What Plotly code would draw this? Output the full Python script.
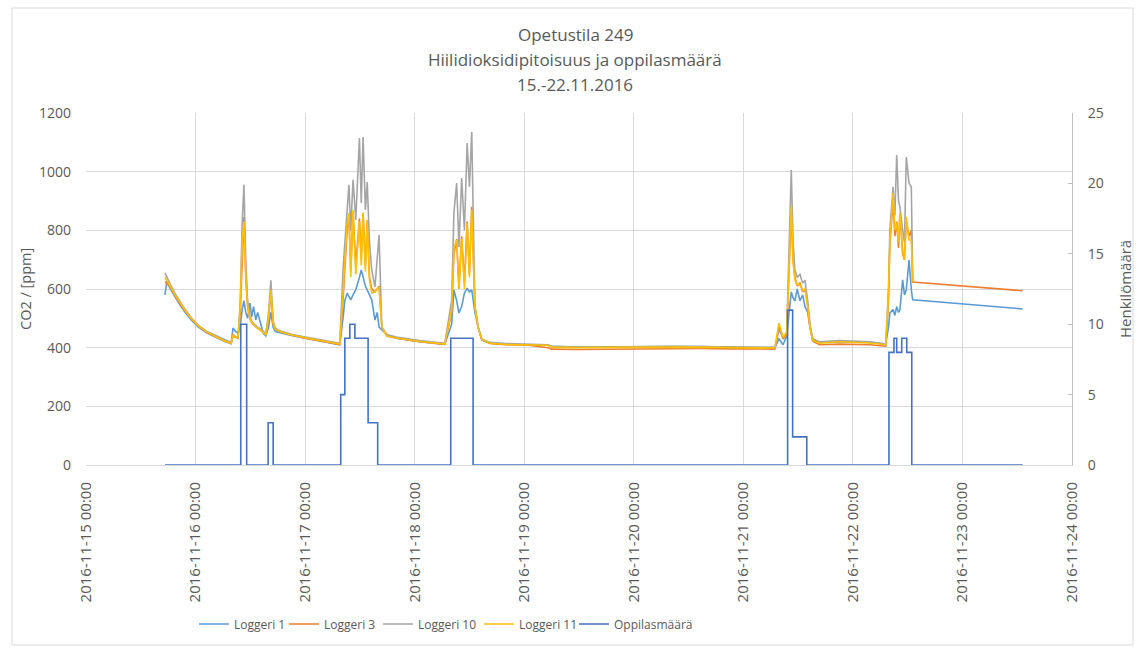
import datetime as dt
import plotly.graph_objects as go

# Measurement start reference: hours below are counted from this moment
BASE = dt.datetime(2016, 11, 15, 0, 0)

# CO2 readings (ppm) from four loggers, sampled at these hour offsets
HOURS = [
    17.3, 17.7, 18.5, 19.5, 20.5, 21.5, 23.0, 24.5, 26.5, 28.5, 30.5, 31.8,
    32.2, 32.8, 33.3, 33.8, 34.2, 34.6, 35.0, 35.4, 35.9, 36.3, 36.7, 37.2, 37.6,
    38.3, 38.8, 39.4, 40.0, 40.5, 41.0, 41.5, 42.5, 45.0, 47.5, 51.0, 55.6,
    56.3, 56.7, 57.2, 57.6, 58.0, 58.5, 59.1, 59.9, 60.3, 60.7, 61.2, 61.6, 62.1,
    62.6, 63.3, 63.8, 64.2, 64.8, 65.9, 68.0, 73.1, 78.6,
    80.1, 80.6, 81.2, 81.7, 82.3, 82.9, 83.5, 84.0, 84.5, 85.2, 85.9, 86.7, 88.5,
    92.0, 97.0, 101.2, 102.0, 108.0, 115.0, 121.0, 128.0, 134.5, 141.0, 147.0, 150.9,
    151.8, 152.7, 153.5, 154.0, 154.5, 154.9, 155.3, 155.8, 156.4, 157.0, 157.5,
    158.1, 158.6, 159.2, 160.7, 165.0, 171.7, 175.2,
    175.8, 176.1, 176.8, 177.2, 177.6, 178.0, 178.3, 178.9, 179.3, 179.7, 180.3,
    180.8, 181.1, 205.2,
]

LOGGERI_1 = [
    580, 625, 600, 572, 548, 525, 495, 472, 450, 435, 420, 414,
    467, 455, 450, 470, 530, 560, 520, 500, 552, 505, 540, 495, 520,
    480, 450, 440, 470, 520, 470, 455, 452, 442, 434, 424, 410,
    500, 560, 586, 575, 563, 580, 597, 640, 665, 641, 610, 597, 580,
    563, 494, 520, 470, 460, 445, 432, 420, 411,
    480, 597, 560, 518, 540, 586, 603, 590, 597, 520, 470, 426, 415,
    412, 410, 408, 405, 402, 403, 404, 405, 404, 402, 401, 400,
    430, 410, 440, 520, 590, 570, 560, 600, 560, 580, 540,
    520, 470, 430, 418, 420, 418, 412,
    470, 518, 530, 510, 540, 520, 528, 631, 580, 597, 699,
    597, 563, 532,
]

LOGGERI_3 = [
    625, 620, 605, 578, 552, 530, 500, 475, 452, 436, 421, 414,
    440, 435, 432, 520, 720, 845, 640, 540, 500, 485, 478, 470, 466,
    460, 452, 445, 500, 590, 480, 462, 455, 443, 434, 424, 411,
    560, 650, 800, 850, 660, 860, 680, 840, 700, 860, 680, 830, 640,
    600, 590, 600, 610, 470, 440, 432, 420, 411,
    520, 720, 770, 600, 780, 620, 830, 650, 880, 540, 470, 428, 414,
    410, 408, 400, 395, 394, 395, 396, 398, 397, 396, 395, 395,
    470, 430, 445, 650, 860, 700, 640, 610, 620, 590, 600,
    540, 470, 422, 410, 412, 410, 405,
    560, 750, 900, 780, 830, 740, 860, 720, 700, 830, 780,
    800, 624, 594,
]

LOGGERI_10 = [
    655, 640, 615, 585, 558, 535, 503, 478, 455, 440, 425, 418,
    445, 438, 436, 560, 820, 955, 700, 560, 510, 490, 482, 475, 470,
    463, 455, 448, 520, 630, 490, 466, 458, 446, 438, 428, 415,
    665, 760, 880, 955, 800, 972, 835, 1115, 893, 1118, 869, 965, 760,
    665, 607, 700, 784, 470, 445, 436, 424, 415,
    560, 860, 961, 743, 978, 800, 1098, 948, 1135, 539, 470, 430, 418,
    414, 412, 410, 405, 402, 402, 404, 405, 404, 402, 401, 401,
    460, 436, 453, 760, 1006, 760, 665, 640, 650, 620, 630,
    560, 480, 430, 420, 424, 420, 412,
    600, 800, 948, 850, 1057, 900, 880, 800, 760, 1050, 961,
    948, 630, None,
]

LOGGERI_11 = [
    640, 630, 608, 580, 555, 532, 500, 476, 453, 437, 422, 415,
    442, 436, 434, 540, 760, 830, 650, 545, 500, 486, 478, 471, 467,
    460, 452, 445, 505, 597, 482, 463, 455, 443, 435, 425, 412,
    600, 700, 820, 859, 640, 869, 650, 830, 680, 859, 660, 835, 630,
    586, 590, 600, 607, 470, 440, 433, 421, 412,
    530, 740, 767, 600, 770, 600, 825, 640, 869, 540, 470, 428, 415,
    411, 410, 408, 402, 400, 401, 402, 403, 402, 400, 399, 399,
    484, 436, 450, 700, 885, 690, 630, 615, 615, 595, 600,
    545, 470, 425, 415, 420, 416, 410,
    580, 760, 927, 800, 825, 760, 860, 733, 700, 846, 767,
    767, 626, None,
]

# Number of pupils in the room (step changes at these hour offsets)
OCC_HOURS = [17.3, 33.9, 35.2, 39.9, 41.0, 55.8, 56.7, 57.8, 58.9, 61.8, 63.9,
             79.9, 84.8, 153.7, 154.8, 157.9, 175.9, 177.0, 177.6, 178.7,
             179.8, 180.9, 205.2]
OPPILAAT = [0, 10, 0, 3, 0, 5, 9, 10, 9, 3, 0,
            9, 0, 11, 2, 0, 8, 9, 8, 9,
            8, 0, 0]

DAYS = ["2016-11-15", "2016-11-16", "2016-11-17", "2016-11-18", "2016-11-19",
        "2016-11-20", "2016-11-21", "2016-11-22", "2016-11-23", "2016-11-24"]
DAY_LABELS = [d + " 00:00" for d in DAYS]

TITLE_LINES = ["Opetustila 249", "Hiilidioksidipitoisuus ja oppilasmäärä", "15.-22.11.2016"]

TEXT = "#595959"
GRID = "#d9d9d9"


def to_time(hours):
    return [BASE + dt.timedelta(hours=h) for h in hours]


times = to_time(HOURS)
occ_times = to_time(OCC_HOURS)

fig = go.Figure()
series = [
    ("Loggeri 1", LOGGERI_1, "#5B9BD5", 45),
    ("Loggeri 3", LOGGERI_3, "#ED7D31", 49),
    ("Loggeri 10", LOGGERI_10, "#A5A5A5", 56),
    ("Loggeri 11", LOGGERI_11, "#FFC000", 50),
]
for name, vals, color, lw in series:
    fig.add_trace(go.Scatter(x=times, y=vals, mode="lines", name=name,
                             line=dict(color=color, width=1.6),
                             connectgaps=False, legendwidth=lw))

fig.add_trace(go.Scatter(x=occ_times, y=OPPILAAT, mode="lines", name="Oppilasmäärä",
                         yaxis="y2", line=dict(color="#4472C4", width=1.6, shape="hv"),
                         legendwidth=85))

# plot area: x 86..1072, y 113..465 (pixels)
L, R, T, B = 86, 69, 113, 189
PW, PH = 1141 - L - R, 654 - T - B


def px(x):
    return (x - L) / PW


def py(y):
    return (654 - B - y) / PH


annotations = []
for i, line in enumerate(TITLE_LINES):
    annotations.append(dict(text=line, xref="paper", yref="paper", x=px(575), y=py(35 + 25 * i),
                            xanchor="center", yanchor="middle", showarrow=False,
                            font=dict(size=17, color=TEXT)))
annotations.append(dict(text="CO2 / [ppm]", xref="paper", yref="paper", x=px(25), y=0.5,
                        textangle=-90, xanchor="center", yanchor="middle", showarrow=False,
                        font=dict(size=14.5, color=TEXT)))
annotations.append(dict(text="Henkilömäärä", xref="paper", yref="paper", x=px(1125), y=0.5,
                        textangle=-90, xanchor="center", yanchor="middle", showarrow=False,
                        font=dict(size=15, color=TEXT)))

fig.update_layout(
    width=1141, height=654,
    margin=dict(l=L, r=R, t=T, b=B, autoexpand=False),
    paper_bgcolor="white", plot_bgcolor="white",
    font=dict(family="Open Sans", color=TEXT),
    showlegend=True,
    legend=dict(orientation="h", x=px(194), xanchor="left", y=py(624), yanchor="middle",
                font=dict(size=12, color=TEXT), bgcolor="rgba(0,0,0,0)"),
    annotations=annotations,
    xaxis=dict(type="date", range=[DAYS[0], DAYS[-1]], tickmode="array",
               tickvals=DAYS, ticktext=DAY_LABELS, tickangle=-90,
               tickfont=dict(size=15, color=TEXT), ticklabelstandoff=10,
               showgrid=True, gridcolor=GRID, gridwidth=1,
               showline=True, linecolor=GRID, zeroline=False),
    yaxis=dict(range=[0, 1200], dtick=200, tickfont=dict(size=14, color=TEXT),
               ticklabelstandoff=14, showgrid=True, gridcolor=GRID, gridwidth=1,
               showline=False, zeroline=False),
    yaxis2=dict(range=[0, 25], dtick=5, overlaying="y", side="right",
                tickfont=dict(size=14, color=TEXT), ticklabelstandoff=12,
                showgrid=False, showline=True, linecolor="#bfbfbf",
                ticks="inside", ticklen=4, tickcolor="#bfbfbf", zeroline=False),
    shapes=[dict(type="rect", xref="paper", yref="paper",
                 x0=px(12), x1=px(1133), y0=py(645), y1=py(8),
                 line=dict(color=GRID, width=1), fillcolor="rgba(0,0,0,0)", layer="below")],
)

fig.write_html("out.html")
